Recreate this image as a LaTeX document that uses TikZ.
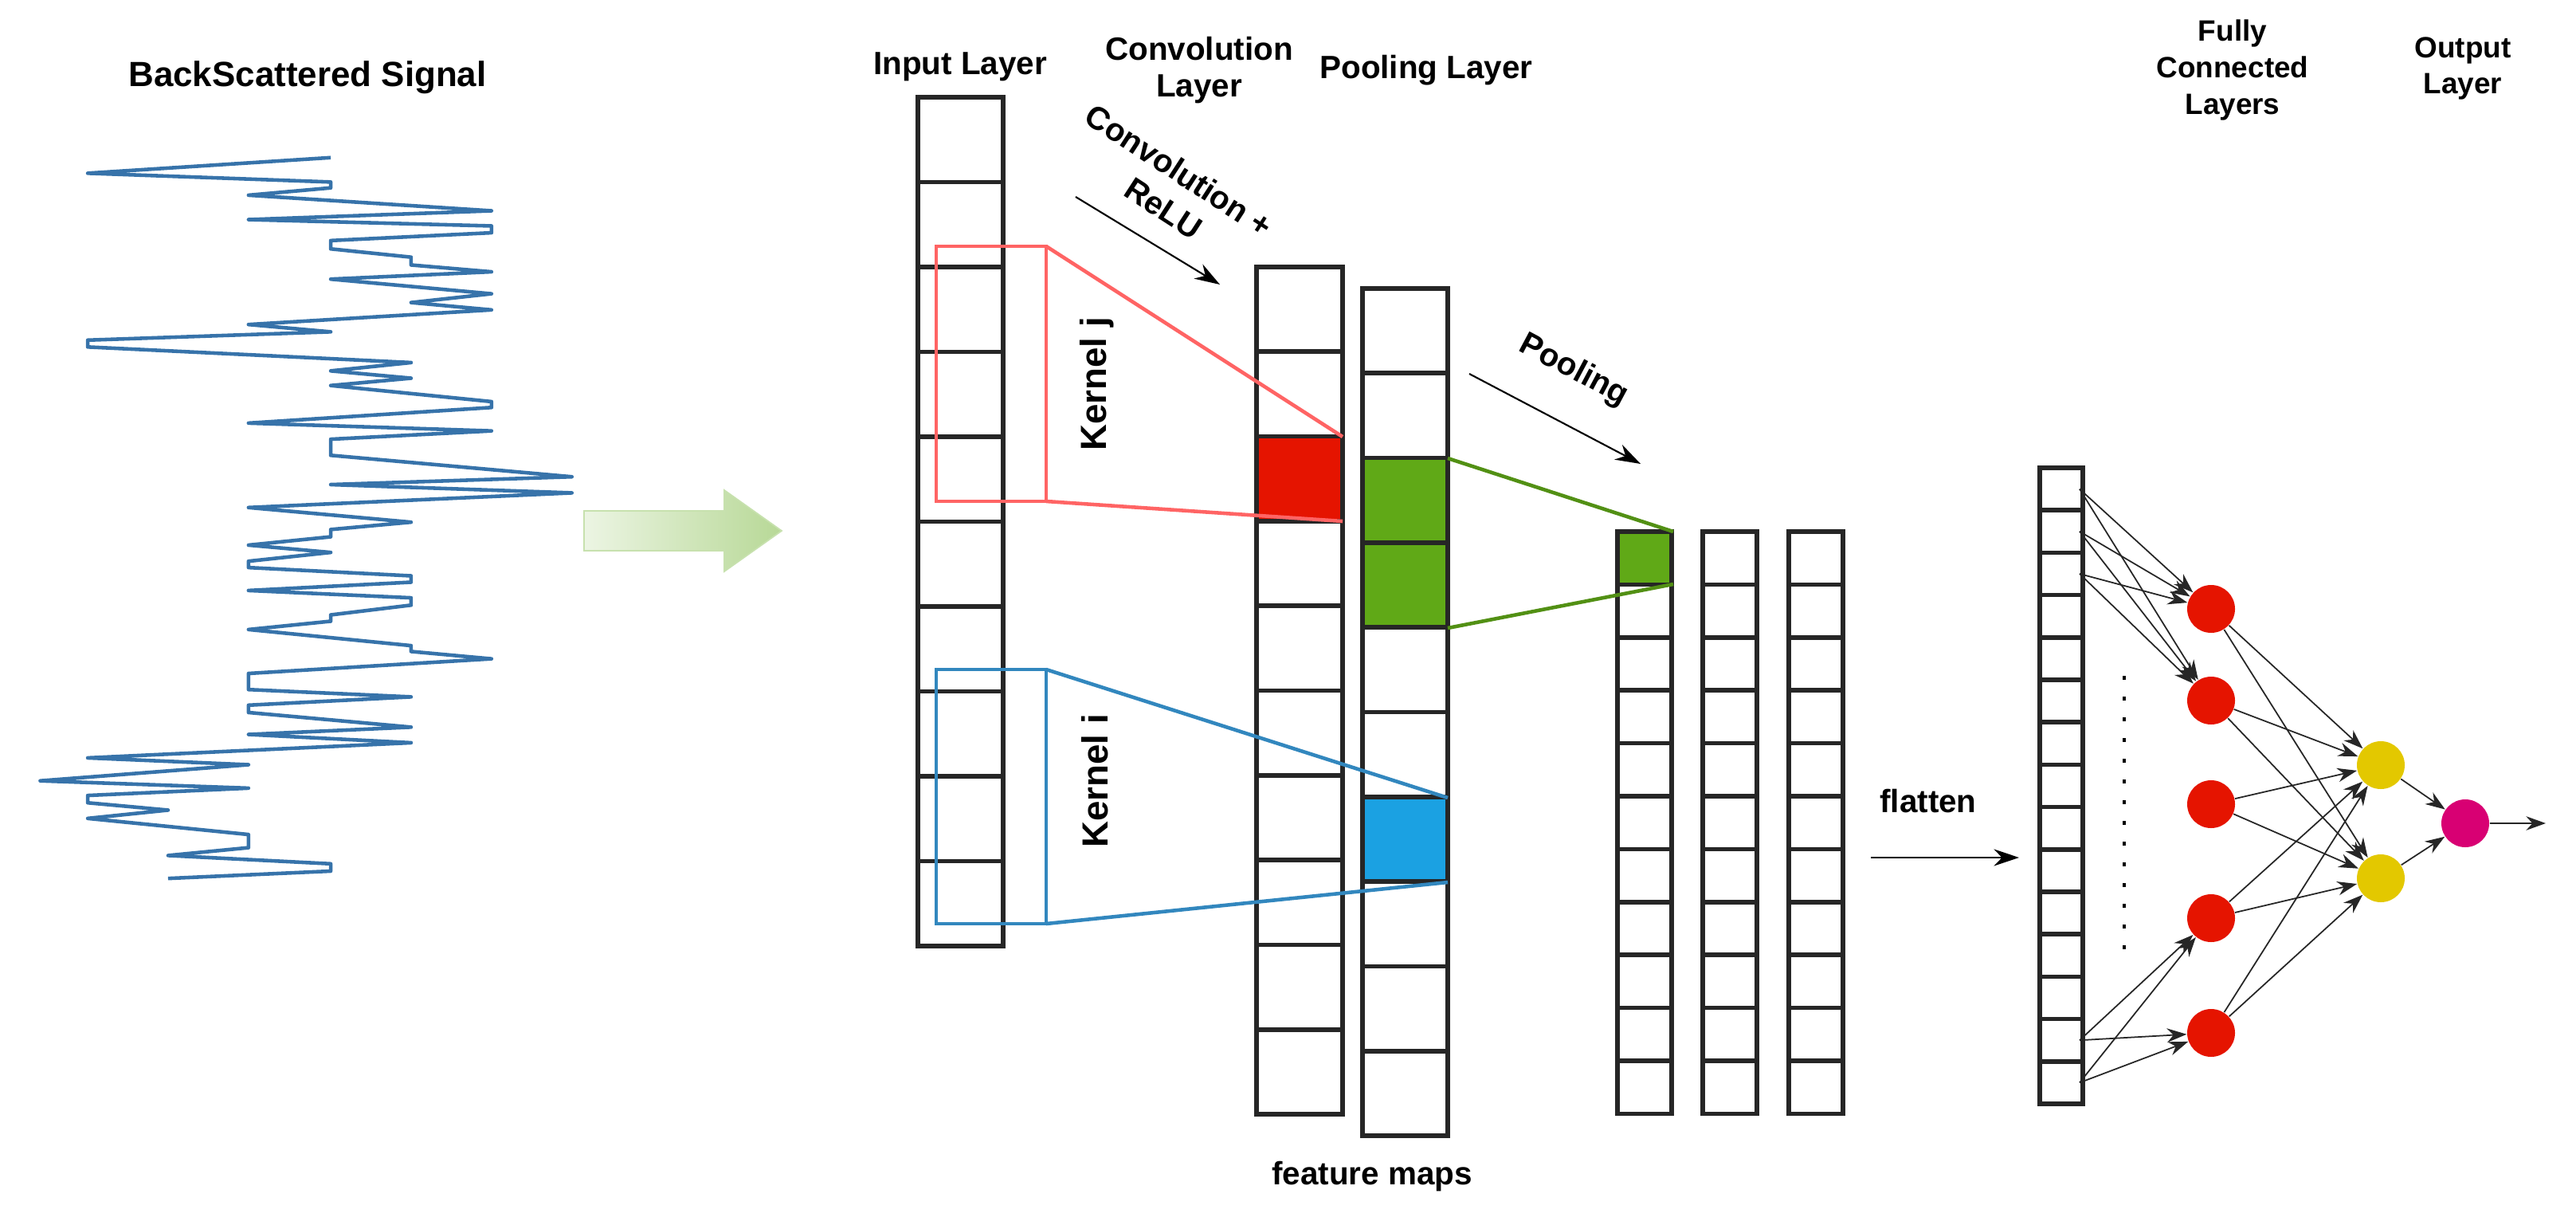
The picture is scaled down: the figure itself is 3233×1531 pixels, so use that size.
\documentclass[tikz,border=0pt]{standalone}
\usepackage{fontspec}
\setmainfont{Liberation Sans}
\usetikzlibrary{arrows.meta,calc}
\definecolor{cred}{RGB}{229,20,0}
\definecolor{cgreen}{RGB}{96,169,23}
\definecolor{cblue}{RGB}{27,161,226}
\definecolor{kred}{RGB}{255,100,100}
\definecolor{kblue}{RGB}{50,135,190}
\definecolor{cyel}{RGB}{227,200,0}
\definecolor{cpink}{RGB}{216,0,115}
\definecolor{sig}{RGB}{55,115,170}
\begin{document}
\begin{tikzpicture}[x=0.1mm,y=-0.1mm,
  cell/.style={draw=black!85,line width=1.6pt},
  lbl/.style={font=\fontsize{11.5}{13}\selectfont\bfseries,align=center},
  arr/.style={-{Stealth[length=9pt,width=6pt]},line width=0.6pt},
  fc/.style={-{Stealth[length=7pt,width=5pt]},line width=0.5pt,black!85},
  neuron/.style={circle,minimum size=6mm,inner sep=0pt,draw=none}]
\useasboundingbox (0,0) rectangle (3233,1531);
% signal
\node[lbl,font=\fontsize{12.5}{14}\selectfont\bfseries] (tsig) at (386,97) {BackScattered Signal};
\begin{scope}[yshift=-15mm,x=0.04587mm,y=-0.06124mm]
\draw[sig,line width=1.3pt,line join=round] (905,78)--(240,110)--(905,128)--(905,140)--(680,155)--(1345,187)--(680,205)--(1345,218)--(1345,232)--(905,248)--(905,265)--(1125,282)--(1125,298)--(1345,312)--(905,327)--(1345,357)--(1125,375)--(1345,390)--(680,420)--(905,435)--(240,452)--(240,466)--(1125,498)--(905,515)--(1125,530)--(905,545)--(1345,578)--(1345,590)--(680,622)--(1345,638)--(905,655)--(905,688)--(1565,732)--(905,748)--(1565,765)--(680,795)--(1125,825)--(905,840)--(905,855)--(680,872)--(905,887)--(680,905)--(680,918)--(1125,935)--(1125,948)--(680,965)--(1125,980)--(1125,995)--(905,1015)--(905,1028)--(680,1045)--(1125,1078)--(1125,1090)--(1345,1105)--(680,1135)--(680,1168)--(1125,1183)--(680,1200)--(680,1215)--(1125,1245)--(680,1260)--(1125,1277)--(240,1308)--(680,1322)--(110,1355)--(680,1370)--(240,1385)--(240,1400)--(460,1415)--(240,1432)--(680,1465)--(680,1492)--(460,1508)--(905,1525)--(905,1540)--(460,1555);
\end{scope}
% big green arrow
\shade[left color=cgreen!12,right color=cgreen!45,draw=cgreen!35,line width=0.5pt]
  (733,641)--(909,641)--(909,615)--(981,666)--(909,717)--(909,691)--(733,691)--cycle;
% input layer
\node[lbl] (tin) at (1205,84) {Input Layer};
\foreach \i in {0,...,9} \draw[cell] (1152,{122+\i*106.5}) rectangle (1259,{122+(\i+1)*106.5});
% conv layer
\node[lbl] (tconv) at (1505,88) {Convolution\\Layer};
\fill[cred] (1577,548) rectangle (1685,654);
\foreach \i in {0,...,9} \draw[cell] (1577,{335+\i*106.3}) rectangle (1685,{335+(\i+1)*106.3});
% pool layer
\node[lbl] (tpool) at (1790,88) {Pooling Layer};
\fill[cgreen] (1710,575) rectangle (1817,788);
\fill[cblue] (1710,1001) rectangle (1817,1107);
\foreach \i in {0,...,9} \draw[cell] (1710,{362+\i*106.3}) rectangle (1817,{362+(\i+1)*106.3});
\node[lbl] (tfm) at (1722,1476) {feature maps};
% kernels
\draw[kred,line width=1.3pt] (1175,309) rectangle (1313,629);
\draw[kred,line width=1.3pt] (1313,309)--(1685,548) (1313,629)--(1685,654);
\draw[kblue,line width=1.3pt] (1175,840) rectangle (1313,1159);
\draw[kblue,line width=1.3pt] (1313,840)--(1817,1001) (1313,1159)--(1817,1107);
\node[lbl,font=\fontsize{13}{15}\selectfont\bfseries,rotate=90] (kj) at (1377,482) {Kernel j};
\node[lbl,font=\fontsize{13}{15}\selectfont\bfseries,rotate=90] (ki) at (1374,980) {Kernel i};
% conv arrow
\coordinate (ca1) at (1350,247); \coordinate (ca2) at (1531,357);
\draw[arr] (ca1)--(ca2);
\node[lbl,rotate=-33] (tcr1) at (1480,214) {Convolution +};
\node[lbl,rotate=-33] (tcr2) at (1460,262) {ReLU};
% small pooled columns
\fill[cgreen] (2030,667) rectangle (2100,733);
\foreach \c in {2030,2137,2245}
  \foreach \i in {0,...,10} \draw[cell] (\c,{667+\i*66.4}) rectangle ({\c+68},{667+(\i+1)*66.4});
\draw[cgreen!85!black,line width=1.3pt] (1817,575)--(2100,667) (1817,788)--(2100,733);
\coordinate (pa1) at (1844,469); \coordinate (pa2) at (2059,582);
\draw[arr] (pa1)--(pa2);
\node[lbl,rotate=-28] (tpo) at (1975,465) {Pooling};
% flatten
\node[lbl] (tfl) at (2420,1005) {flatten};
\coordinate (fa1) at (2348,1076); \coordinate (fa2) at (2534,1076);
\draw[arr] (fa1)--(fa2);
\foreach \i in {0,...,14} \draw[cell] (2560,{587+\i*53.2}) rectangle (2614,{587+(\i+1)*53.2});
\foreach \i/\n in {0/s0,1/s1,2/s2,13/s13,14/s14} \coordinate (\n) at (2610,{587+(\i+0.5)*53.2});
\draw[black,line width=1.4pt,dash pattern=on 1.4pt off 6pt] (2666,848)--(2666,1210);
% neurons
\node[neuron,fill=cred] (r1) at (2775,764) {};
\node[neuron,fill=cred] (r2) at (2775,879) {};
\node[neuron,fill=cred] (r3) at (2775,1009) {};
\node[neuron,fill=cred] (r4) at (2775,1152) {};
\node[neuron,fill=cred] (r5) at (2775,1296) {};
\node[neuron,fill=cyel] (y1) at (2988,960) {};
\node[neuron,fill=cyel] (y2) at (2988,1102) {};
\node[neuron,fill=cpink] (p) at (3094,1033) {};
\coordinate (out) at (3195,1033);
\foreach \s in {s0,s1,s2} {\draw[fc] (\s)--(r1); \draw[fc] (\s)--(r2);}
\foreach \s in {s13,s14} {\draw[fc] (\s)--(r4); \draw[fc] (\s)--(r5);}
\foreach \r in {r1,r2,r3,r4,r5} {\draw[fc] (\r)--(y1); \draw[fc] (\r)--(y2);}
\draw[fc] (y1)--(p); \draw[fc] (y2)--(p); \draw[fc] (p)--(out);
\node[lbl,font=\fontsize{10.5}{13}\selectfont\bfseries] (tfc) at (2802,88) {Fully\\Connected\\Layers};
\node[lbl,font=\fontsize{10.5}{13}\selectfont\bfseries] (tout) at (3091,86) {Output\\Layer};
\end{tikzpicture}
\end{document}
